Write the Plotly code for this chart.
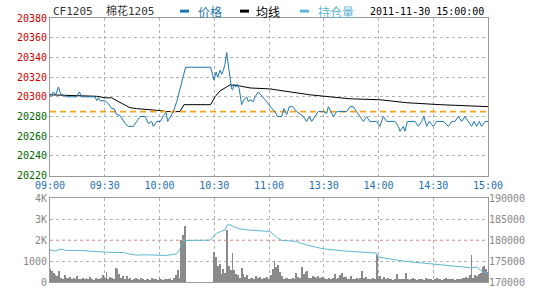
import plotly.graph_objects as go

# ---------------- data ----------------
time_ticks = [0, 30, 60, 90, 120, 150, 180, 210, 240]
time_labels = ["09:00", "09:30", "10:00", "10:30", "11:00", "13:30", "14:00", "14:30", "15:00"]

prev_settle = 20285
price_ticks = [20380, 20360, 20340, 20320, 20300, 20280, 20260, 20240, 20220]
pct_labels = ["+0.47%", "+0.37%", "+0.27%", "+0.17%", "+0.07%", "-0.02%", "-0.12%", "-0.22%", "-0.32%"]

vol_ticks = [0, 1000, 2000, 3000, 4000]
vol_labels = ["0", "1000", "2K", "3K", "4K"]
oi_ticks = [170000, 175000, 180000, 185000, 190000]
oi_labels = ["170000", "175000", "180000", "185000", "190000"]

price_t = [0, 1.8, 3.1, 4.6, 5.8, 7.3, 9.1, 14.6, 16.1, 17.4, 24.7, 25.6, 26.5, 27.4, 30.1, 32, 33.8, 35.1,
           36.5, 38.4, 41.1, 42.9, 45.7, 47.5, 49.3, 52.1, 53.9, 55.7, 56.6, 58.5, 60.6, 62.1, 63.6, 64.5,
           66.1, 67.6, 69.4, 71.2, 74.3, 88, 89.1, 89.9, 91, 91.9, 93.2, 94.1, 95, 95.9, 96.8, 97.7, 98.6,
           99.5, 100.1, 100.8, 101.7, 102.6, 103.7, 105, 106.3, 107.8, 108.7, 109.6, 111.4, 112.3, 114.2,
           116, 117.8, 119.6, 121.5, 123.3, 124.6, 127, 128.2, 129.7, 131.1, 133, 135.2, 137, 138.8, 140.6,
           142.1, 143.4, 145.2, 147, 149.8, 151.6, 152.5, 154, 155.3, 157.1, 162.6, 164.4, 166.2, 168,
           169.9, 171.7, 173.5, 175.3, 179, 180.8, 182.6, 184.5, 189, 190.9, 191.8, 193.6, 194.5, 195.8,
           200, 201.8, 203.7, 204.9, 206.4, 207.8, 210, 211.9, 215.5, 218.3, 220.1, 221.9, 223.7, 225.6,
           227.4, 229.2, 231, 232.3, 233.8, 235.2, 236.5, 238.4, 240]
price_v = [20300, 20305, 20302, 20310, 20303, 20302, 20300, 20300, 20305, 20300, 20300, 20296, 20299, 20296,
           20296, 20293, 20288, 20288, 20282, 20281, 20273, 20270, 20270, 20275, 20280, 20280, 20273, 20275,
           20270, 20275, 20275, 20281, 20284, 20275, 20280, 20285, 20295, 20308, 20330, 20330, 20322, 20317,
           20325, 20320, 20327, 20323, 20327, 20333, 20345, 20333, 20322, 20308, 20307, 20313, 20310, 20313,
           20308, 20292, 20297, 20300, 20295, 20297, 20295, 20300, 20305, 20301, 20298, 20293, 20288, 20285,
           20280, 20280, 20288, 20282, 20290, 20290, 20285, 20282, 20280, 20275, 20280, 20275, 20280, 20285,
           20285, 20283, 20290, 20284, 20280, 20285, 20285, 20290, 20290, 20285, 20280, 20275, 20280, 20275,
           20275, 20270, 20280, 20275, 20275, 20270, 20265, 20270, 20265, 20275, 20275, 20270, 20275, 20280,
           20270, 20275, 20270, 20275, 20275, 20270, 20275, 20275, 20280, 20275, 20280, 20275, 20270, 20275,
           20270, 20275, 20270, 20275, 20275]

avg_t = [0, 14.6, 25.6, 30.2, 33.8, 35.6, 41, 43.8, 47.5, 56.6, 60.3, 63.9, 71.2, 73.4, 88, 90.4, 93.2,
         95.9, 98.6, 104, 109.6, 120.5, 131.5, 142.5, 153.4, 164.4, 180.8, 195.4, 213.7, 240]
avg_v = [20302, 20301, 20300.5, 20299, 20299, 20297, 20292, 20289, 20288, 20287, 20286, 20285, 20285, 20292,
         20292, 20300, 20306, 20309, 20312, 20311, 20309, 20308, 20305, 20302, 20300, 20298, 20297, 20294,
         20292, 20290]

oi_t = [0, 2.7, 5.5, 9.1, 16.4, 20, 27.4, 34.7, 40.2, 42.9, 47.5, 51.1, 58.5, 63.9, 69.4, 71.2, 72.1, 74,
        87.7, 89.5, 91.3, 94, 95.9, 97.2, 98.6, 100.4, 104.1, 107.8, 115, 120.5, 124.2, 127, 134.2, 141.5,
        149.8, 162.6, 179, 179.9, 193.6, 208.2, 222.8, 230.1, 233.8, 237.4, 240]
oi_v = [177690, 177380, 177860, 177540, 177540, 177380, 177210, 177060, 177060, 176740, 176430, 176500,
        176350, 176350, 176740, 177880, 179120, 179920, 180000, 180880, 181670, 182140, 182450, 183640,
        183720, 183260, 182700, 182450, 182310, 182070, 180710, 179920, 179760, 178740, 177930, 177380,
        176900, 175950, 175000, 174370, 173740, 173420, 173530, 172380, 172140]

vol_t = list(range(241))
vol_v = [600, 520, 430, 320, 250, 520, 200, 150, 300, 180,
         200, 220, 150, 180, 120, 250, 150, 130, 200, 140,
         180, 120, 230, 150, 100, 200, 150, 120, 180, 320,
         200, 480, 150, 220, 180, 130, 670, 600, 350, 200,
         280, 150, 260, 120, 180, 100, 150, 200, 120, 100,
         180, 130, 90, 150, 120, 100, 160, 110, 130, 90,
         170, 120, 100, 140, 110, 130, 160, 100, 200, 300,
         550, 180, 2000, 2250, 2650, 0, 0, 0, 0, 0,
         0, 0, 0, 0, 0, 0, 0, 0, 0, 0,
         1430, 1160, 750, 840, 360, 630, 400, 2460, 750, 560,
         1350, 560, 360, 320, 200, 670, 360, 240, 320, 150,
         180, 200, 150, 270, 180, 240, 130, 160, 200, 240,
         150, 320, 630, 1000, 710, 800, 480, 270, 150, 200,
         180, 120, 150, 200, 140, 430, 240, 180, 710, 360,
         480, 520, 200, 160, 270, 240, 200, 270, 160, 240,
         200, 130, 150, 180, 120, 160, 360, 150, 200, 320,
         430, 240, 240, 150, 130, 270, 150, 120, 180, 140,
         160, 520, 200, 240, 130, 150, 120, 180, 140, 1270,
         200, 270, 150, 240, 130, 200, 120, 150, 100, 130,
         360, 150, 120, 140, 110, 400, 130, 100, 140, 160,
         120, 100, 140, 110, 130, 100, 200, 120, 110, 130,
         100, 120, 160, 110, 140, 100, 120, 160, 130, 110,
         140, 120, 100, 130, 150, 120, 160, 200, 240, 200,
         320, 1270, 200, 320, 250, 360, 400, 710, 750, 630,
         480]

# ---------------- style ----------------
MONO = "DejaVu Sans Mono"
CJK = "DejaVu Sans Mono, Noto Sans CJK SC"
RED = "#cc0000"
GREEN = "#006600"
GRID = "#b4b4b4"
BORDER = "#999999"
PRICE_C = "#1f77b0"
OI_C = "#5fb6d2"

def colored(labels, ticks):
    out = []
    for lab, v in zip(labels, ticks):
        c = RED if v >= prev_settle else GREEN
        out.append(f'<span style="color:{c}">{lab}</span>')
    return out

fig = go.Figure()

# top panel
fig.add_trace(go.Scatter(x=avg_t, y=avg_v, mode="lines", line=dict(color="#000000", width=1),
                         xaxis="x", yaxis="y"))
fig.add_trace(go.Scatter(x=[0, 240], y=[prev_settle, prev_settle], mode="lines",
                         line=dict(color="#f7a21b", width=1.6, dash="6px,4px"), xaxis="x", yaxis="y",
                         hoverinfo="skip"))
fig.add_trace(go.Scatter(x=price_t, y=price_v, mode="lines", line=dict(color=PRICE_C, width=1),
                         xaxis="x", yaxis="y"))

# bottom panel
fig.add_trace(go.Scatter(x=[0, 240], y=[2000, 2000], mode="lines",
                         line=dict(color="#e8a0a0", width=1, dash="dot"), xaxis="x2", yaxis="y3",
                         hoverinfo="skip"))
fig.add_trace(go.Bar(x=vol_t, y=vol_v, width=0.45, marker=dict(color="#8a8a8a", line=dict(width=0)),
                     xaxis="x2", yaxis="y3"))
fig.add_trace(go.Scatter(x=oi_t, y=oi_v, mode="lines", line=dict(color=OI_C, width=1),
                         xaxis="x2", yaxis="y4"))

axis_common = dict(showgrid=True, gridcolor=GRID, griddash="dot", gridwidth=1, zeroline=False,
                   showline=True, linecolor=BORDER, linewidth=1, mirror=True, ticks="",
                   fixedrange=True)

TOP_D = [0.403, 1.0]
BOT_D = [0.0, 0.317]

fig.update_layout(
    width=540, height=300,
    margin=dict(l=50, r=52, t=18, b=14),
    paper_bgcolor="white", plot_bgcolor="white",
    showlegend=False, bargap=0,
    xaxis=dict(domain=[0, 1], anchor="y", range=[0, 240], tickvals=time_ticks, ticktext=time_labels,
               tickfont=dict(family=MONO, size=10, color="#1f6fb0"), **axis_common),
    yaxis=dict(domain=TOP_D, anchor="x", range=[20220, 20380], tickvals=price_ticks,
               ticktext=colored([str(v) for v in price_ticks], price_ticks),
               tickfont=dict(family=MONO, size=10), **axis_common),
    yaxis2=dict(overlaying="y", side="right", anchor="x", range=[20220, 20380], tickvals=price_ticks,
                ticktext=colored(pct_labels, price_ticks), tickfont=dict(family=MONO, size=10),
                showgrid=False, zeroline=False, ticks="", fixedrange=True),
    xaxis2=dict(domain=[0, 1], anchor="y3", range=[0, 240], tickvals=time_ticks, showticklabels=False,
                **axis_common),
    yaxis3=dict(domain=BOT_D, anchor="x2", range=[0, 4000], tickvals=vol_ticks, ticktext=vol_labels,
                tickfont=dict(family=MONO, size=10, color="#888888"), **axis_common),
    yaxis4=dict(overlaying="y3", side="right", anchor="x2", range=[170000, 190000], tickvals=oi_ticks,
                ticktext=oi_labels,
                tickfont=dict(family=MONO, size=10, color="#888888"), showgrid=False, zeroline=False,
                ticks="", fixedrange=True),
)

# header texts
def px2paper(px):
    return (px - 50) / 438.0

YH = (286 - 11) / 268.0
fig.add_annotation(text="CF1205  棉花1205", xref="paper", yref="paper", x=px2paper(51), y=YH,
                   xanchor="left", yanchor="middle", showarrow=False,
                   font=dict(family=CJK, size=11, color="#333333"))
fig.add_annotation(text="价格", xref="paper", yref="paper", x=px2paper(196), y=YH,
                   xanchor="left", yanchor="middle", showarrow=False,
                   font=dict(family="Noto Sans CJK SC", size=12, color=PRICE_C))
fig.add_annotation(text="均线", xref="paper", yref="paper", x=px2paper(254), y=YH,
                   xanchor="left", yanchor="middle", showarrow=False,
                   font=dict(family="Noto Sans CJK SC", size=12, color="#000000"))
fig.add_annotation(text="持仓量", xref="paper", yref="paper", x=px2paper(316), y=YH,
                   xanchor="left", yanchor="middle", showarrow=False,
                   font=dict(family="Noto Sans CJK SC", size=12, color=OI_C))
fig.add_annotation(text="2011-11-30 15:00:00", xref="paper", yref="paper", x=px2paper(486), y=YH,
                   xanchor="right", yanchor="middle", showarrow=False,
                   font=dict(family=MONO, size=10, color="#000000"))
for x0, c in [(180, PRICE_C), (240, "#000000"), (300, OI_C)]:
    fig.add_shape(type="line", xref="paper", yref="paper", x0=px2paper(x0), x1=px2paper(x0 + 9),
                  y0=YH, y1=YH, line=dict(color=c, width=3))

fig.write_html("out.html")
